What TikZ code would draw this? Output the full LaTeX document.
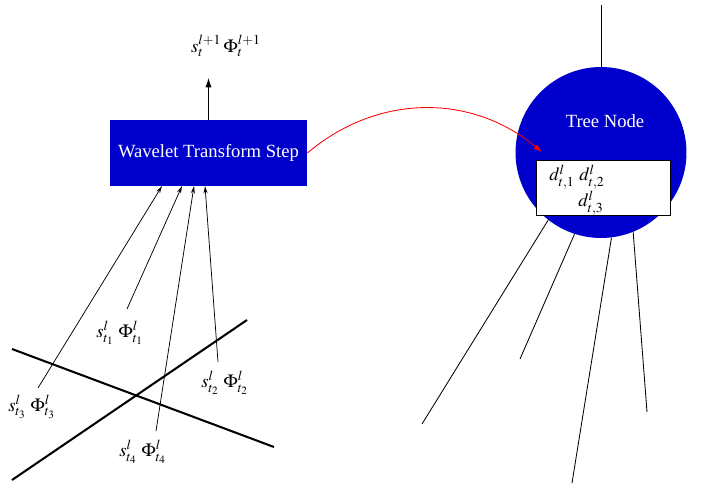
\documentclass[tikz,border=0pt]{standalone}
\usepackage{mathptmx}
\usepackage{fontspec}
\setmainfont{Liberation Serif}
\usetikzlibrary{arrows, arrows.meta}
\definecolor{nodeblue}{RGB}{0,0,204}

\begin{document}
\begin{tikzpicture}[x=0.537pt, y=-0.537pt,
  inarrow/.style={-{Stealth[length=4pt, width=2.2pt, open]}, line width=0.4pt},
  cutline/.style={line width=1.1pt},
  branch/.style={line width=0.45pt},
  lbl/.style={inner sep=1pt}]
\useasboundingbox (0,0) rectangle (705,487);

% transform step
\node[fill=nodeblue, text=white, minimum width=105.8pt, minimum height=35.4pt, inner sep=0pt]
  (wts) at (208.5,153) {Wavelet Transform Step};
\node[lbl] (out) at (226,46) {$s_t^{l+1}\,\Phi_t^{l+1}$};
\coordinate (outtip) at (208.5,78);
\draw[-{Latex[length=5pt, width=3.3pt]}, line width=0.5pt] (wts.north) -- (outtip);

% inputs
\node[lbl] (s1) at (120,333) {$s^l_{t_1}\;\Phi^l_{t_1}$};
\node[lbl] (s2) at (225,383) {$s^l_{t_2}\;\Phi^l_{t_2}$};
\node[lbl] (s3) at (32,407) {$s^l_{t_3}\;\Phi^l_{t_3}$};
\node[lbl] (s4) at (143,452) {$s^l_{t_4}\;\Phi^l_{t_4}$};
\coordinate (f1) at (127,309);
\coordinate (f2) at (218,362);
\coordinate (f3) at (38,388);
\coordinate (f4) at (156,431);
\coordinate (e1) at (182,186);
\coordinate (e2) at (205,186);
\coordinate (e3) at (162,186);
\coordinate (e4) at (194,186);
\foreach \i in {1,...,4}
  \draw[inarrow] (f\i) -- (e\i);

% crossing lines
\coordinate (ca) at (12,349);
\coordinate (cb) at (274,447);
\coordinate (cc) at (12,480);
\coordinate (cd) at (247,320);
\draw[cutline] (ca) -- (cb);
\draw[cutline] (cc) -- (cd);

% tree node
\node[circle, fill=nodeblue, minimum size=91.8pt, inner sep=0pt] (tn) at (601,152.5) {};
\node[text=white] (tntext) at (605,121) {Tree Node};
\node[draw, fill=white, minimum width=72pt, minimum height=29.5pt, inner sep=0pt]
  (dbox) at (603,187.5) {};
\node[lbl] (d1) at (562,177) {$d^l_{t,1}$};
\node[lbl] (d2) at (592,177) {$d^l_{t,2}$};
\node[lbl] (d3) at (591,203) {$d^l_{t,3}$};

\coordinate (parent) at (601,5);
\draw[branch] (tn.north) -- (parent);
\coordinate (c1) at (422,424);
\coordinate (c2) at (520,359);
\coordinate (c3) at (572,483);
\coordinate (c4) at (647,412);
\draw[branch] (tn.232) -- (c1);
\draw[branch] (tn.252) -- (c2);
\draw[branch] (tn.277) -- (c3);
\draw[branch] (tn.292) -- (c4);

% link
\coordinate (linktip) at (542,152);
\draw[-{Latex[length=4.5pt, width=3pt]}, red, line width=0.45pt] (wts.east) to[bend left=40] (linktip);
\end{tikzpicture}
\end{document}
